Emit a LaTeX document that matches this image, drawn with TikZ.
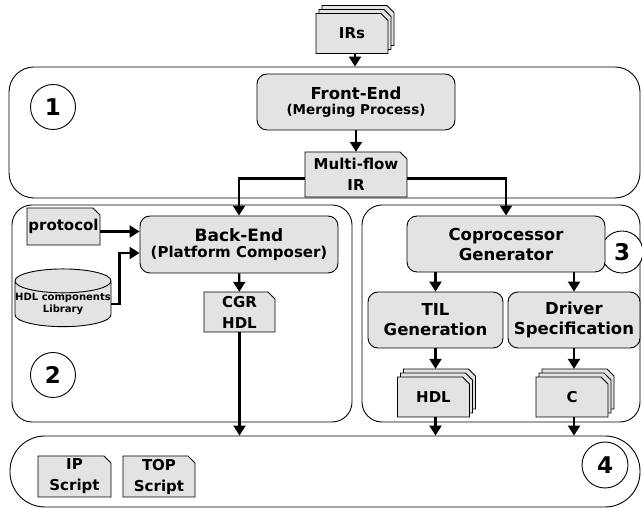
\documentclass[tikz,border=0pt]{standalone}
\usepackage{fontspec}
\setmainfont{DejaVu Sans}
\usetikzlibrary{calc}
\usetikzlibrary{shapes.geometric}
\usetikzlibrary{arrows.meta}
\definecolor{boxgray}{HTML}{E3E3E3}
\tikzset{
  docline/.style={fill=boxgray,draw=black,line width=0.9pt},
  doctext/.style={inner sep=0pt,align=center,font=\bfseries\fontsize{15}{21}\selectfont},
  stage/.style={draw,line width=0.9pt,fill=boxgray,rounded corners=10pt,align=center,inner sep=0pt,font=\bfseries\fontsize{16.5}{20}\selectfont},
  group/.style={draw,line width=0.9pt,inner sep=0pt},
  num/.style={circle,draw,line width=0.9pt,fill=white,minimum size=45pt,inner sep=0pt,font=\bfseries\fontsize{23}{25}\selectfont},
  arr/.style={line width=2.2pt,-{Triangle[length=10pt,width=12pt]}}
}
\newcommand{\docshape}[4]{\filldraw[docline] ({#1-#3/2},{#2-#4/2}) -- ({#1-#3/2},{#2+#4/2}) -- ({#1+#3/2-7},{#2+#4/2}) -- ({#1+#3/2},{#2+#4/2-7}) -- ({#1+#3/2},{#2-#4/2}) -- cycle;}
\newcommand{\doc}[6]{\docshape{#2}{#3}{#4}{#5} \node[doctext,minimum width=#4pt,minimum height=#5pt] (#1) at (#2,#3) {#6};}
\newcommand{\docstack}[4]{\docshape{#2+6}{#3+8}{72}{40} \docshape{#2+3}{#3+4}{72}{40} \doc{#1}{#2}{#3}{72}{40}{#4}}

\begin{document}
\begin{tikzpicture}[x=1pt,y=1pt]
    \useasboundingbox (0,0) rectangle (642,508);

    % the four groups
    \node[group,rounded corners=25pt,minimum width=631pt,minimum height=131pt] (b1) at (324.5,375.5) {};
    \node[group,rounded corners=20pt,minimum width=340pt,minimum height=217pt] (b2) at (182,194.5) {};
    \node[group,rounded corners=20pt,minimum width=278pt,minimum height=217pt] (b3) at (501,194.5) {};
    \node[group,rounded corners=35pt,minimum width=630pt,minimum height=71pt] (b4) at (325,36.5) {};

    \node[num] (n1) at (53,401) {1};
    \node[num] (n2) at (53,133) {2};
    \node[num,minimum size=42pt] (n3) at (622,256) {3};
    \node[num,minimum size=46pt] (n4) at (605,43) {4};

    % front-end
    \docstack{irs}{352}{474.5}{IRs}
    \node[stage,minimum width=198pt,minimum height=56pt] (fe) at (356,406) {Front-End\\[-5pt]{\fontsize{13.5}{15}\selectfont(Merging Process)}};
    \doc{mf}{356}{333.5}{102}{45}{Multi-flow\\IR}

    % back-end
    \doc{proto}{63.5}{281.5}{73}{37}{protocol}
    \node[cylinder,shape border rotate=90,draw,line width=0.9pt,fill=boxgray,aspect=0.25,minimum width=96pt,minimum height=42pt,inner sep=0pt,align=center,font=\bfseries\fontsize{10}{12}\selectfont] (lib) at (63,204) {HDL components\\Library};
    \node[stage,minimum width=198pt,minimum height=57pt] (be) at (239,263.5) {{\fontsize{17}{20}\selectfont Back-End}\\[-4pt]{\fontsize{15}{17}\selectfont(Platform Composer)}};
    \doc{cgr}{239.5}{196}{71}{40}{CGR\\HDL}

    % coprocessor
    \node[stage,minimum width=198pt,minimum height=56pt] (cg) at (506,264) {Coprocessor\\Generator};
    \node[stage,minimum width=135pt,minimum height=56pt] (til) at (435.5,188) {TIL\\Generation};
    \node[stage,minimum width=132pt,minimum height=56pt] (drv) at (574,188) {Driver\\Specification};
    \docstack{hdl}{433.5}{111}{HDL}
    \docstack{csrc}{572}{111}{C}

    % scripts
    \doc{ip}{74.5}{31.5}{73}{41}{IP\\Script}
    \doc{top}{159}{31.5}{72}{41}{TOP\\Script}

    % arrows
    \draw[arr] ([xshift=3pt]irs.south) -- ([xshift=3pt]irs.south |- b1.north);
    \draw[arr] (fe) -- (mf);
    \draw[arr] ([yshift=-4pt]mf.west) -| (be.north);
    \draw[arr] ([yshift=-4pt]mf.east) -| (cg.north);
    \draw[arr] ([yshift=-5pt]proto.east) -- ([yshift=-5pt]proto.east -| be.west);
    \draw[arr] (lib.east) -- ++(8,0) |- ([yshift=-8.5pt]be.west);
    \draw[arr] (be) -- (cgr);
    \draw[arr] (cgr) -- (cgr |- b4.north);
    \draw[arr] (cg.south -| til) -- (til);
    \draw[arr] (cg.south -| drv) -- (drv);
    \draw[arr] (til) -- ([yshift=8pt]til |- hdl.north);
    \draw[arr] (drv) -- ([yshift=8pt]drv |- csrc.north);
    \draw[arr] (til |- hdl.south) -- (til |- b4.north);
    \draw[arr] (drv |- csrc.south) -- (drv |- b4.north);
\end{tikzpicture}
\end{document}
